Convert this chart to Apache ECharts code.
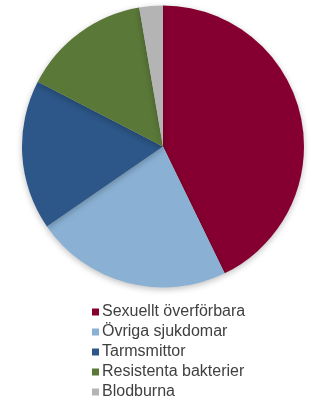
<!DOCTYPE html>
<html><head><meta charset="utf-8">
<script src="https://cdn.jsdelivr.net/npm/echarts@6/dist/echarts.min.js"></script>
<style>html,body{margin:0;padding:0;background:#fff}#c{width:326px;height:408px}</style>
</head><body><div id="c"></div>
<script>
const categories = ["Sexuellt överförbara","Övriga sjukdomar","Tarmsmittor","Resistenta bakterier","Blodburna"];
const values = [42.8, 22.6, 17.2, 14.7, 2.7];
const colors = ["#850030","#8AB1D4","#2C5788","#5A7838","#B4B4B4"];
const chart = echarts.init(document.getElementById('c'));
chart.setOption({
  animation:false,
  color: colors,
  legend:{
    orient:'vertical', left:87, top:299, icon:'rect', itemWidth:7, itemHeight:7, itemGap:4,
    textStyle:{fontFamily:'Liberation Sans, Arial, sans-serif', fontSize:16, color:'#404040', padding:[0,0,0,-2], lineHeight:16},
    data: categories
  },
  series:[{
    type:'pie', center:[163,146.5], radius:141, startAngle:90, clockwise:true,
    label:{show:false}, labelLine:{show:false},
    itemStyle:{shadowBlur:6, shadowColor:'rgba(0,0,0,0.25)', shadowOffsetY:2},
    emphasis:{disabled:true},
    data: categories.map((n,i)=>({name:n, value:values[i]}))
  }]
});
</script></body></html>
